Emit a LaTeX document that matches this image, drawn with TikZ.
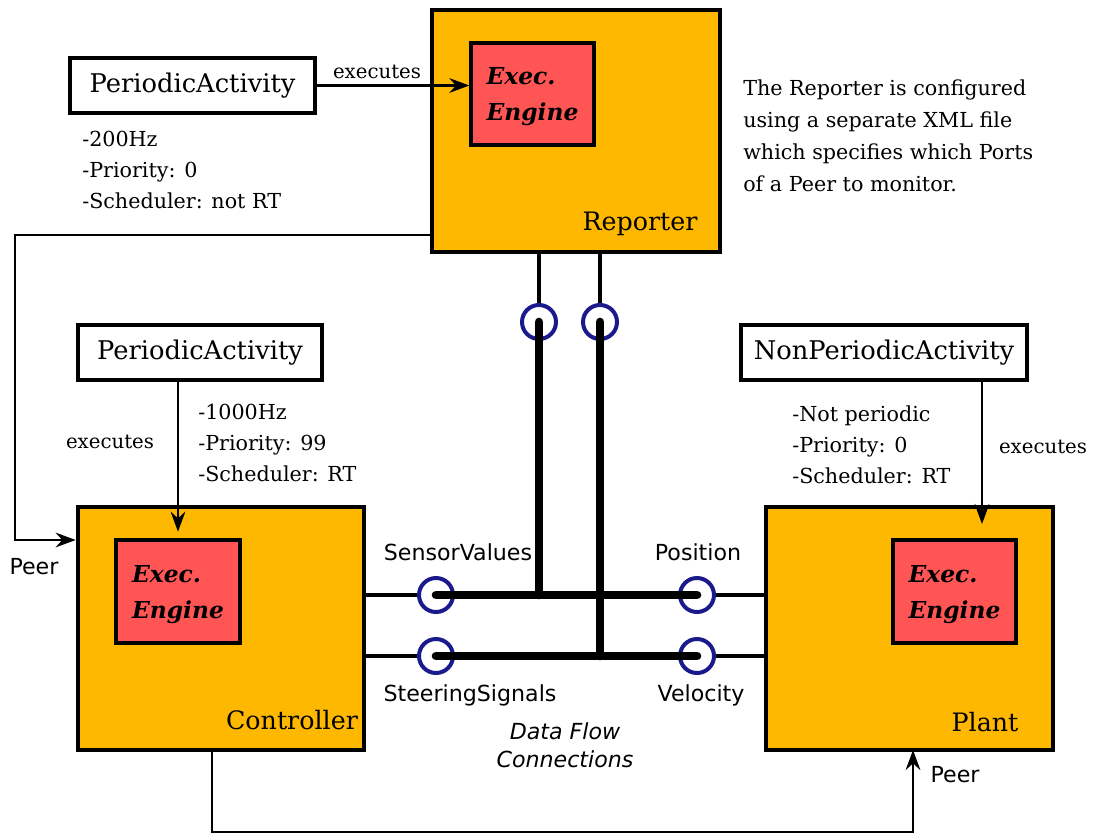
\documentclass[tikz,border=0pt]{standalone}
\usepackage{fontspec}
\setmainfont{DejaVu Serif}
\setsansfont{DejaVu Sans}
\usetikzlibrary{arrows.meta,calc}
\definecolor{boxorange}{HTML}{FFB800}
\definecolor{engred}{HTML}{FF5555}
\definecolor{portblue}{HTML}{1A1A8C}
\tikzset{
  comp/.style={draw=black, line width=3.5pt, fill=boxorange, inner sep=0pt},
  eng/.style={draw=black, line width=2.5pt, fill=engred, inner sep=0pt},
  engtext/.style={font=\fontsize{17.5}{27}\selectfont\bfseries\itshape, align=left, inner sep=0pt, yshift=-2pt},
  act/.style={draw=black, line width=2.5pt, fill=white, inner sep=0pt,
    font=\fontsize{19.3}{23}\selectfont},
  info/.style={font=\fontsize{15.5}{23.25}\selectfont, align=left, anchor=north west, inner sep=0pt},
  lbl/.style={font=\fontsize{14.8}{18}\selectfont, inner sep=0pt},
  slbl/.style={font=\sffamily\fontsize{16.6}{20}\selectfont, inner sep=0pt},
  cname/.style={font=\fontsize{19}{23}\selectfont, inner sep=0pt},
  port/.style={circle, draw=portblue, line width=3pt, minimum size=25.5pt, inner sep=0pt},
  wire/.style={line width=2.8pt},
  bus/.style={line width=6.5pt, line cap=round},
  arr/.style={line width=2pt, -{Stealth[length=15pt,width=11pt,inset=5pt]}}
}
\begin{document}
\begin{tikzpicture}[x=0.75pt,y=-0.75pt]
\useasboundingbox (0,0) rectangle (1098,835);

% component boxes
\node[comp, minimum width=288*0.75pt, minimum height=242*0.75pt] (rep) at (576,131) {};
\node[comp, minimum width=286*0.75pt, minimum height=243*0.75pt] (ctrl) at (221,628.5) {};
\node[comp, minimum width=287*0.75pt, minimum height=243*0.75pt] (plant) at (909.5,628.5) {};

% execution engines
\node[eng, minimum width=123*0.75pt, minimum height=102*0.75pt] (repEE) at (532.5,94) {};
\node[eng, minimum width=124*0.75pt, minimum height=103*0.75pt] (ctrlEE) at (178,591.5) {};
\node[eng, minimum width=123*0.75pt, minimum height=103*0.75pt] (plantEE) at (954.5,591.5) {};
\node[engtext] (repEEt) at (repEE.center) {Exec.\\Engine};
\node[engtext] (ctrlEEt) at (ctrlEE.center) {Exec.\\Engine};
\node[engtext] (plantEEt) at (plantEE.center) {Exec.\\Engine};

% component names
\node[cname] (repName) at (640,224) {Reporter};
\node[cname] (ctrlName) at (292,720) {Controller};
\node[cname] (plantName) at (985,722) {Plant};

% activities
\node[act, minimum width=245*0.75pt, minimum height=55*0.75pt] (pa1) at (192.5,85.5) {PeriodicActivity};
\node[act, minimum width=244*0.75pt, minimum height=55*0.75pt] (pa2) at (200,352.5) {PeriodicActivity};
\node[act, minimum width=286*0.75pt, minimum height=55*0.75pt] (npa) at (884,352.5) {NonPeriodicActivity};

% activity properties
\node[info] (pa1Info) at (82,131) {-200Hz\\-Priority: 0\\-Scheduler: not RT};
\node[info] (pa2Info) at (198,404) {-1000Hz\\-Priority: 99\\-Scheduler: RT};
\node[info] (npaInfo) at (792,406) {-Not periodic\\-Priority: 0\\-Scheduler: RT};
\node[info, font=\fontsize{15.5}{24}\selectfont] (note) at (743,80)
  {The Reporter is configured\\using a separate XML file\\which specifies which Ports\\of a Peer to monitor.};

% executes arrows
\draw[arr] (pa1.east) -- (pa1.east -| repEE.west);
\node[lbl] (ex1) at (377,72) {executes};
\draw[arr, shorten >=5pt] (ctrlEE.north |- pa2.south) -- (ctrlEE.north);
\node[lbl] (ex2) at (110,442) {executes};
\coordinate (npaOut) at (982,380);
\coordinate (plantIn) at (982,524);
\draw[arr] (npaOut) -- (plantIn);
\node[lbl] (ex3) at (1043,447) {executes};

% peer connections
\coordinate (p1a) at (432,235);
\coordinate (p1b) at (15,235);
\coordinate (p1c) at (15,540);
\draw[arr] (p1a) -- (p1b) -- (p1c) -- (p1c -| ctrl.west);
\node[slbl] (peer1) at (34,567) {Peer};
\coordinate (p2a) at (212,750);
\coordinate (p2b) at (212,832);
\coordinate (p2c) at (913,832);
\coordinate (p2d) at (913,750);
\draw[arr] (p2a) -- (p2b) -- (p2c) -- (p2d);
\node[slbl] (peer2) at (955,775) {Peer};

% ports
\node[port] (pR1) at (539,322) {};
\node[port] (pR2) at (600,322) {};
\node[port] (pC1) at (436,595) {};
\node[port] (pC2) at (436,656) {};
\node[port] (pP1) at (697,595) {};
\node[port] (pP2) at (697,656) {};

% thin port wires
\draw[wire] (pR1.north) -- (pR1.north |- rep.south);
\draw[wire] (pR2.north) -- (pR2.north |- rep.south);
\draw[wire] (pC1.west) -- (pC1.west -| ctrl.east);
\draw[wire] (pC2.west) -- (pC2.west -| ctrl.east);
\draw[wire] (pP1.east) -- (pP1.east -| plant.west);
\draw[wire] (pP2.east) -- (pP2.east -| plant.west);

% data flow buses
\coordinate (j1) at (pR1.center |- pC1.center);
\coordinate (j2) at (pR2.center |- pC2.center);
\draw[bus] (pC1.center) -- (pP1.center);
\draw[bus] (pC2.center) -- (pP2.center);
\draw[bus] (pR1.center) -- (j1);
\draw[bus] (pR2.center) -- (j2);

% port labels
\node[slbl] (lSV) at (458,552) {SensorValues};
\node[slbl] (lPos) at (698,552) {Position};
\node[slbl] (lSS) at (470,695) {SteeringSignals};
\node[slbl] (lVel) at (701,695) {Velocity};
\node[slbl, font=\sffamily\itshape\fontsize{16.6}{21}\selectfont, align=center] (dfc) at (565,745) {Data Flow\\Connections};
\end{tikzpicture}
\end{document}
